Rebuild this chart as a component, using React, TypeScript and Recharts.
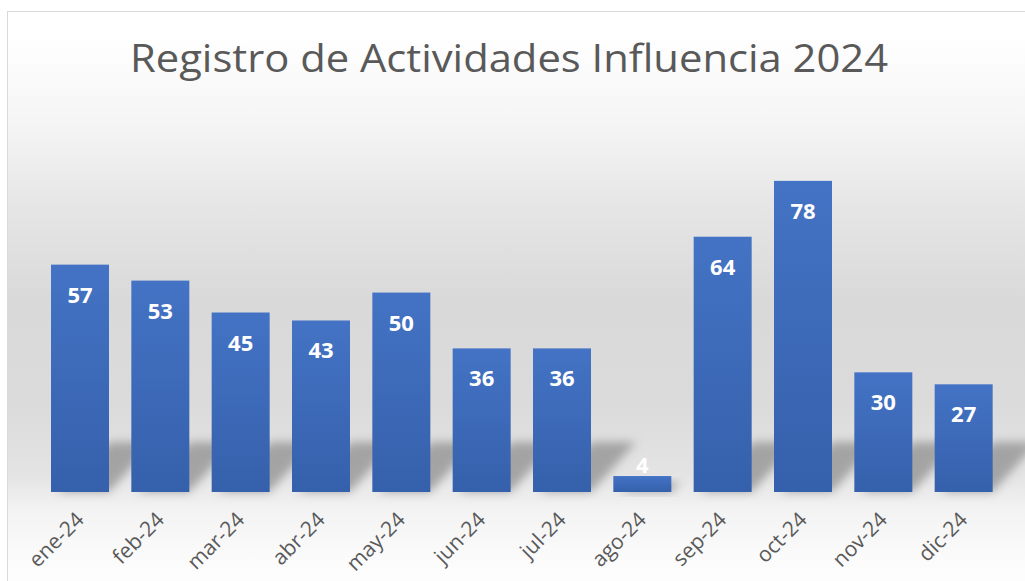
import React from 'react';
import { BarChart, Bar, XAxis, YAxis, LabelList } from 'recharts';

const months = ['ene-24', 'feb-24', 'mar-24', 'abr-24', 'may-24', 'jun-24', 'jul-24', 'ago-24', 'sep-24', 'oct-24', 'nov-24', 'dic-24'];
const activities = [57, 53, 45, 43, 50, 36, 36, 4, 64, 78, 30, 27];
const titleText = 'Registro de Actividades Influencia 2024';

const data = months.map((m, i) => ({ month: m, value: activities[i] }));

const BarShape = (props: any) => {
  const { x, y, width, height } = props;
  if (width == null || height == null) return null;
  const base = y + height;
  const sh = Math.min(height * 0.6, 50);
  const sx = sh * 0.9;
  const pts = `${x + 6},${base} ${x + width},${base} ${x + width + sx},${base - sh} ${x + sx + 14},${base - sh}`;
  return (
    <g>
      <polygon points={pts} fill="#8f8f8f" opacity={0.75} filter="url(#shadowBlur)" />
      <rect x={x} y={y} width={width} height={height} fill="url(#barGrad)" />
    </g>
  );
};

const ValueLabel = (props: any) => {
  const { x, y, width, height, value } = props;
  const inside = height > 40;
  const cy = inside ? y + 38 : y - 3;
  return (
    <text x={x + width / 2} y={cy} textAnchor="middle" fill="#ffffff" fontFamily="'Open Sans', sans-serif" fontWeight={700} fontSize={22}>
      {value}
    </text>
  );
};

const MonthTick = (props: any) => {
  const { x, y, payload } = props;
  const ax = x + 5;
  const ay = y + 21;
  return (
    <text
      x={ax}
      y={ay}
      transform={`rotate(-45, ${ax}, ${ay})`}
      textAnchor="end"
      fill="#595959"
      fontFamily="'Open Sans', sans-serif"
      fontSize={21}
    >
      {payload.value}
    </text>
  );
};

export default function App() {
  return (
    <div style={{ position: 'absolute', left: 0, top: 0, width: 1025, height: 581, background: '#ffffff', overflow: 'hidden' }}>
      <div
        style={{
          position: 'absolute',
          left: 7,
          top: 11,
          width: 1030,
          height: 580,
          borderLeft: '1px solid #d9d9d9',
          borderTop: '1px solid #d9d9d9',
          background:
            'linear-gradient(to bottom, #ffffff 4%, #f5f5f5 19%, #e6e6e6 33%, #d9d9d9 50%, #dbdbdb 68%, #e4e4e4 80%, #f3f3f3 86%, #fafafa 93%, #ffffff 100%)',
        }}
      />
      <svg style={{ position: 'absolute', left: 0, top: 0 }} width={1025} height={120}>
        <text
          x={509}
          y={72}
          textAnchor="middle"
          fill="#595959"
          fontFamily="'Open Sans', sans-serif"
          fontSize={38}
          textLength={758}
          lengthAdjust="spacingAndGlyphs"
        >
          {titleText}
        </text>
      </svg>
      <div style={{ position: 'absolute', left: 0, top: 0 }}>
        <BarChart width={1025} height={581} data={data} margin={{ top: 133, right: 21, bottom: 0, left: 40 }} barSize={58}>
          <defs>
            <linearGradient id="barGrad" x1="0" y1="0" x2="0" y2="1">
              <stop offset="0%" stopColor="#4473c5" />
              <stop offset="100%" stopColor="#3560ab" />
            </linearGradient>
            <filter id="shadowBlur" x="-50%" y="-50%" width="200%" height="200%">
              <feGaussianBlur stdDeviation="5" />
            </filter>
          </defs>
          <YAxis hide domain={[0, 90]} />
          <XAxis dataKey="month" height={89} axisLine={false} tickLine={false} interval={0} tick={<MonthTick />} />
          <Bar dataKey="value" isAnimationActive={false} shape={<BarShape />}>
            <LabelList dataKey="value" content={<ValueLabel />} />
          </Bar>
        </BarChart>
      </div>
    </div>
  );
}
